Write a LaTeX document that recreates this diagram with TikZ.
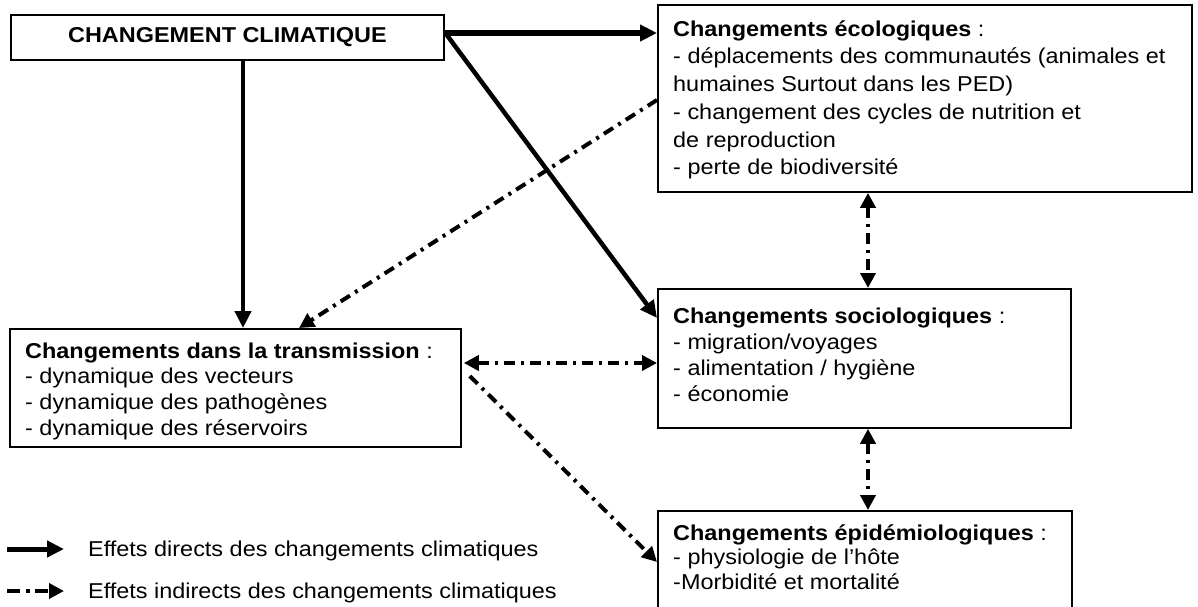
\documentclass[tikz,border=0pt]{standalone}
\usepackage{fontspec}
\setmainfont{Liberation Sans}[FakeStretch=1.09]
\usetikzlibrary{arrows.meta,calc}
\begin{document}
\begin{tikzpicture}[x=1pt,y=-1pt,
 box/.style={draw, line width=1.8pt, inner sep=0pt, anchor=north west},
 txt/.style={anchor=north west, align=left, inner sep=0pt},
 direct/.style={line width=4.5pt, -{Triangle[length=17pt,width=16pt]}},
 indirect/.style={line width=4pt, dash pattern=on 11pt off 6pt on 3pt off 6pt, -{Triangle[length=15pt,width=15pt]}},
 indirectboth/.style={line width=4pt, dash pattern=on 11pt off 6pt on 3pt off 6pt, {Triangle[length=15pt,width=15pt]}-{Triangle[length=15pt,width=15pt]}}
]
\useasboundingbox (0,0) rectangle (1198,606);
\clip (0,0) rectangle (1198,606);

% boxes
\node[box, minimum width=433pt, minimum height=45pt] (clim) at (10,14) {};
\node[font=\fontsize{21.5}{24}\selectfont\bfseries] (climtxt) at (clim.center) {CHANGEMENT CLIMATIQUE};

\node[box, minimum width=534pt, minimum height=187pt] (eco) at (657,4) {};
\node[txt, font=\fontsize{21.5}{27.7}\selectfont] (ecotxt) at (673,19) {\rule{0pt}{17pt}\textbf{Changements écologiques} :\\
- déplacements des communautés (animales et\\
humaines Surtout dans les PED)\\
- changement des cycles de nutrition et\\
de reproduction\\
- perte de biodiversité};

\node[box, minimum width=413pt, minimum height=139pt] (socio) at (657,288) {};
\node[txt, font=\fontsize{21.5}{26}\selectfont] (sociotxt) at (673,306) {\rule{0pt}{17pt}\textbf{Changements sociologiques} :\\
- migration/voyages\\
- alimentation / hygiène\\
- économie};

\node[box, minimum width=451pt, minimum height=118pt] (trans) at (9,328) {};
\node[txt, font=\fontsize{21.5}{25.7}\selectfont] (transtxt) at (25,341) {\rule{0pt}{17pt}\textbf{Changements dans la transmission} :\\
- dynamique des vecteurs\\
- dynamique des pathogènes\\
- dynamique des réservoirs};

\node[box, minimum width=414pt, minimum height=130pt] (epi) at (657,510) {};
\node[txt, font=\fontsize{21.5}{24.5}\selectfont] (epitxt) at (673,523) {\rule{0pt}{17pt}\textbf{Changements épidémiologiques} :\\
- physiologie de l’hôte\\
-Morbidité et mortalité};

% connectors
\coordinate (cA) at ($(clim.north east)+(0,19)$);
\draw[direct, line width=6pt] (cA) -- (cA -| eco.west);
\draw[direct] ($(clim.north east)+(2,21)$) -- ($(socio.north west)+(0,30)$);
\coordinate (cV) at ($(clim.south west)+(233,0)$);
\draw[direct] (cV) -- (cV |- trans.north);
\draw[indirect] ($(eco.north west)+(0,96)$) -- ($(trans.north west)+(290,0)$);
\coordinate (tE) at ($(trans.north east)+(2,35)$);
\draw[indirectboth] (tE) -- (tE -| socio.west);
\draw[indirect] ($(trans.north east)+(8,48)$) -- ($(epi.north west)+(0,52)$);
\draw[indirectboth] ($(eco.south west)+(211,0)$) -- ($(socio.north west)+(211,0)$);
\draw[indirectboth] ($(socio.south west)+(211,0)$) -- ($(epi.north west)+(211,0)$);

% legend
\coordinate (l1a) at (7,549);
\coordinate (l1b) at (64,549);
\draw[direct, line width=5pt] (l1a) -- (l1b);
\node[anchor=west, inner sep=0pt, font=\fontsize{21.5}{24}\selectfont] (leg1) at (88,551) {Effets directs des changements climatiques};
\coordinate (l2a) at (7,591);
\coordinate (l2b) at (64,591);
\draw[line width=4.5pt, dash pattern=on 13pt off 6pt on 4pt off 5pt, -{Triangle[length=15pt,width=15pt]}] (l2a) -- (l2b);
\node[anchor=west, inner sep=0pt, font=\fontsize{21.5}{24}\selectfont] (leg2) at (88,593) {Effets indirects des changements climatiques};
\end{tikzpicture}
\end{document}
